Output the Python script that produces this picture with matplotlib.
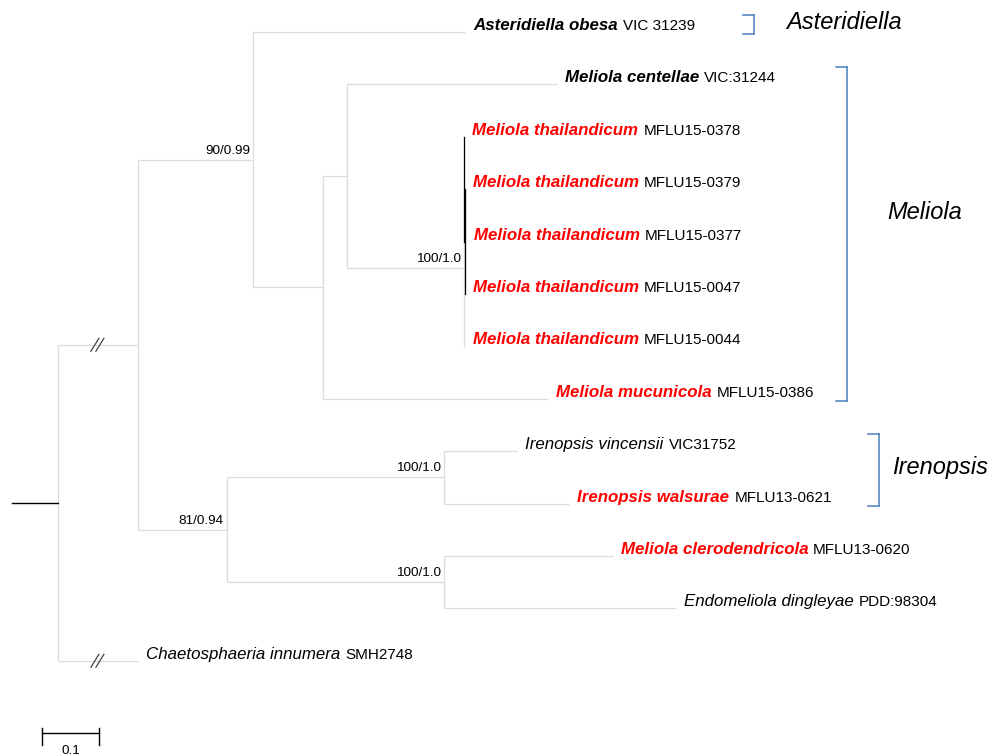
import matplotlib.pyplot as plt
from matplotlib.transforms import offset_copy

plt.rcParams['font.family'] = ['Liberation Sans', 'DejaVu Sans']

# tips, top to bottom
species = ["Asteridiella obesa", "Meliola centellae", "Meliola thailandicum",
           "Meliola thailandicum", "Meliola thailandicum", "Meliola thailandicum",
           "Meliola thailandicum", "Meliola mucunicola", "Irenopsis vincensii",
           "Irenopsis walsurae", "Meliola clerodendricola", "Endomeliola dingleyae",
           "Chaetosphaeria innumera"]
strains = ["VIC 31239", "VIC:31244", "MFLU15-0378", "MFLU15-0379", "MFLU15-0377",
           "MFLU15-0047", "MFLU15-0044", "MFLU15-0386", "VIC31752", "MFLU13-0621",
           "MFLU13-0620", "PDD:98304", "SMH2748"]
tip_color = ["black", "black", "red", "red", "red", "red", "red", "red",
             "black", "red", "red", "black", "black"]
tip_bold = [True, True, True, True, True, True, True, True,
            False, True, True, False, False]
tip_parent = ["B", "D", "X", "Y", "Y", "Y", "E", "C", "G", "G", "H", "H", "root"]
tip_len = [0.372, 0.368, 0.0, 0.0, 0.001, 0.0, 0.002, 0.395,
           0.128, 0.219, 0.295, 0.407, 0.140]

# internal nodes
node_parent = {"A": "root", "B": "A", "C": "B", "D": "C", "E": "D", "X": "E",
               "Y": "X", "F": "A", "G": "F", "H": "F"}
node_len = {"A": 0.140, "B": 0.202, "C": 0.123, "D": 0.042, "E": 0.205,
            "X": 0.001, "Y": 0.001, "F": 0.156, "G": 0.382, "H": 0.382}
support = {"B": "90/0.99", "E": "100/1.0", "F": "81/0.94", "G": "100/1.0", "H": "100/1.0"}
black_nodes = ["X", "Y"]
broken = ["A", "tip12"]
root_stub = 0.081

clade_names = ["Asteridiella", "Meliola", "Irenopsis"]
clade_tips = [(0, 0), (1, 7), (8, 9)]
clade_label_y = [-0.19, 3.44, 8.32]
clade_x = [1.202, 1.365, 1.421]
clade_label_x = [1.277, 1.454, 1.463]

scale_len = 0.1

fig = plt.figure(figsize=(9.89, 7.56), dpi=100)
ax = fig.add_axes([0, 0, 1, 1])
ax.set_xlim(-58 / 570, (989 - 58) / 570)
ax.set_ylim((756 - 32) / 52.4, -32 / 52.4)
ax.axis('off')

# layout
children = {}
for n, p in node_parent.items():
    children.setdefault(p, []).append(n)
for i, p in enumerate(tip_parent):
    children.setdefault(p, []).append("tip%d" % i)
blen = dict(node_len)
for i, l in enumerate(tip_len):
    blen["tip%d" % i] = l

X, Y = {}, {}


def place(n, x0):
    X[n] = x0 + (blen.get(n, 0.0))
    if n.startswith("tip"):
        Y[n] = int(n[3:])
        return
    for c in children[n]:
        place(c, X[n])
    ys = [Y[c] for c in children[n]]
    Y[n] = (min(ys) + max(ys)) / 2


place("root", 0.0)
parent_of = dict(node_parent)
for i, p in enumerate(tip_parent):
    parent_of["tip%d" % i] = p

grey = "#dcdcdc"
for n, p in parent_of.items():
    ax.plot([X[p], X[n]], [Y[n], Y[n]], color=grey, lw=0.9, solid_capstyle='butt')
for n, cs in children.items():
    ys = [Y[c] for c in cs]
    ax.plot([X[n], X[n]], [min(ys), max(ys)], color=grey, lw=0.9, solid_capstyle='butt')
for n in black_nodes:
    ys = [Y[c] for c in children[n]]
    ax.plot([X[n], X[n]], [min(ys), max(ys)], color="black", lw=0.9)

ax.plot([X["root"] - root_stub, X["root"]], [Y["root"], Y["root"]], color="black", lw=1.0)

# break marks
for n in broken:
    xm = (X[parent_of[n]] + X[n]) / 2
    for dx in (-3, 2):
        t = offset_copy(ax.transData, fig, x=dx, y=0, units='dots')
        ax.plot([xm - 4 / 570, xm + 4 / 570], [Y[n] + 6.5 / 52.4, Y[n] - 6.5 / 52.4],
                color="#444444", lw=0.9, transform=t)

# support values
for n, s in support.items():
    t = offset_copy(ax.transData, fig, x=-3, y=3, units='dots')
    ax.text(X[n], Y[n], s, ha='right', va='bottom', fontsize=9.7, transform=t)

# tip labels
for i in range(len(species)):
    n = "tip%d" % i
    t = offset_copy(ax.transData, fig, x=8, y=2, units='dots')
    sp = ax.text(X[n], Y[n], species[i], ha='left', va='baseline', fontsize=12.2,
                 style='italic', weight='bold' if tip_bold[i] else 'normal',
                 color=tip_color[i], transform=t)
    ax.annotate(strains[i], xy=(1, Y[n]), xycoords=(sp, t), xytext=(5, 0),
                textcoords='offset pixels', ha='left', va='baseline', fontsize=11)

# clade brackets
for k, name in enumerate(clade_names):
    a, b = clade_tips[k]
    top = offset_copy(ax.transData, fig, x=0, y=17, units='dots')
    bot = offset_copy(ax.transData, fig, x=0, y=-2, units='dots')
    x0, x1 = clade_x[k], clade_x[k] + 11 / 570
    ax.plot([x0, x1], [a, a], color="#4a7ebb", lw=1.1, transform=top)
    ax.plot([x0, x1], [b, b], color="#4a7ebb", lw=1.1, transform=bot)
    ya = ax.transData.inverted().transform(top.transform((x1, a)))[1]
    yb = ax.transData.inverted().transform(bot.transform((x1, b)))[1]
    ax.plot([x1, x1], [ya, yb], color="#4a7ebb", lw=1.1)
    ax.text(clade_label_x[k], clade_label_y[k], name, fontsize=17, style='italic',
            ha='left', va='center')

# scale bar
sy = (733 - 32) / 52.4
sx = -0.028
ax.plot([sx, sx + scale_len], [sy, sy], color="black", lw=1.0)
for xx in (sx, sx + scale_len):
    ax.plot([xx, xx], [sy - 5 / 52.4, sy + 12 / 52.4], color="black", lw=1.0)
ax.text(sx + scale_len / 2, sy + 12 / 52.4, "0.1", ha='center', va='top', fontsize=9.7)

fig.savefig("out.png", dpi=100)
